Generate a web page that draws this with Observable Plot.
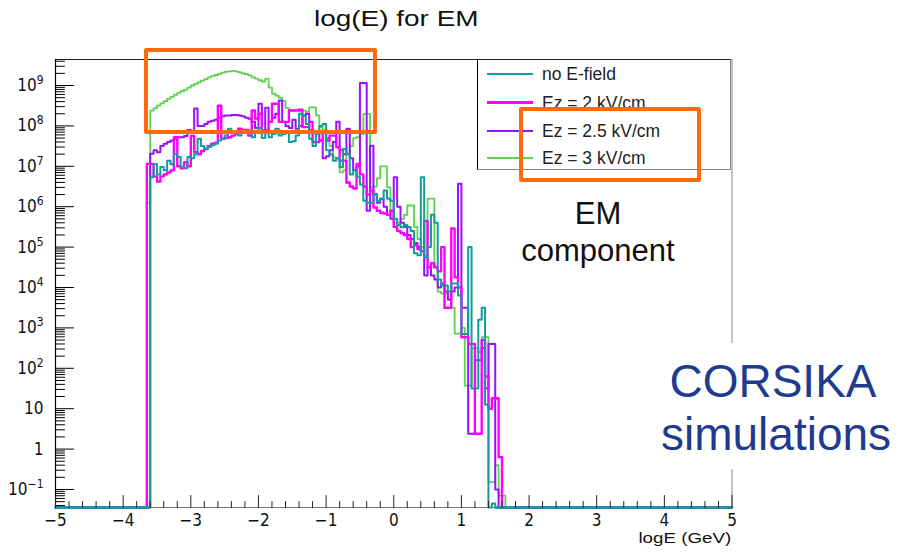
<!DOCTYPE html>
<html><head><meta charset="utf-8">
<script src="https://cdn.jsdelivr.net/npm/d3@7"></script>
<script src="https://cdn.jsdelivr.net/npm/@observablehq/plot@0.6"></script>
<style>
body{margin:0;background:#fff;}
#wrap{position:relative;width:904px;height:552px;overflow:hidden;font-family:"Liberation Sans",Arial,sans-serif;background:#fff;}
#wrap svg{position:absolute;left:0;top:0;}
.ov{position:absolute;white-space:nowrap;}
</style></head><body><div id="wrap"></div>
<script>
// ---- data: log10(entries) per bin, bins of width 0.05 starting at logE = -3.65; null = empty bin
const binStart = -3.65;
const binWidth = 0.05;
const seriesNames = ["no E-field", "Ez = 2 kV/cm", "Ez = 2.5 kV/cm", "Ez = 3 kV/cm"];
const seriesColors = ["#129c9c", "#ff00ff", "#9a10ff", "#5cd24e"];

const noField = [
  null,6.73,7.06,6.8,6.98,6.9,7.14,7.05,7.31,7.23,6.98,
  6.95,7.23,7.2,7.3,7.68,7.5,7.43,7.48,7.52,7.56,
  7.64,7.68,7.76,7.93,7.85,7.87,7.76,7.87,7.84,7.84,
  7.72,7.84,7.95,7.7,7.84,7.72,7.8,7.93,7.76,7.8,
  7.84,7.6,7.62,7.76,8.3,8.25,8.05,7.68,7.5,7.8,
  8.0,8.05,7.4,7.3,7.14,7.2,6.98,7.43,7.3,6.8,
  6.9,6.75,6.55,6.15,6.1,6.1,6.32,6.15,6.2,6.4,
  6.2,6.15,5.7,5.55,5.49,5.55,5.5,5.4,4.85,4.8,
  6.73,4.75,5.0,5.8,5.6,4.2,4.05,4.05,3.9,4.1,
  4.1,3.8,2.85,2.85,5.0,1.5,1.5,3.2,3.5,1.1,
  null,-1.35,null,null,null,null
];
const ez2 = [
  7.06,7.06,6.75,6.62,6.75,6.8,6.85,6.9,7.72,7.0,6.95,
  7.1,7.0,7.75,7.35,7.3,7.38,7.43,7.5,7.56,7.58,
  8.5,7.68,7.7,7.72,7.76,7.8,7.93,7.9,7.9,7.76,
  8.38,8.18,8.3,7.89,7.89,8.1,8.55,8.55,8.1,8.1,
  8.1,8.38,8.38,8.38,8.4,7.97,7.97,8.1,7.6,7.6,
  7.64,7.84,7.64,7.76,7.76,7.47,7.14,7.14,6.6,6.5,
  6.45,7.06,6.8,6.5,6.3,6.4,5.98,5.9,5.85,5.83,
  5.8,5.9,5.5,5.4,5.35,5.3,5.2,5.0,5.05,4.95,
  4.9,5.65,4.5,4.6,4.5,4.4,5.0,3.5,3.5,5.46,
  4.25,4.0,2.77,2.77,2.6,2.6,0.38,0.38,2.7,1.8,
  1.0,1.26,1.26,-0.2,null,null
];
const ez25 = [
  null,7.31,7.4,7.35,7.5,7.56,7.6,7.64,7.68,7.72,7.72,
  7.75,7.9,7.85,8.43,8.0,8.0,8.05,8.1,8.13,8.15,
  8.2,8.24,8.26,8.26,8.27,8.27,8.26,8.24,8.2,8.18,
  8.1,7.95,8.55,7.89,8.45,8.1,8.2,8.3,8.63,8.1,
  8.0,7.95,8.15,7.93,8.0,8.25,8.3,7.9,7.85,7.86,
  7.64,7.2,7.25,7.4,7.6,8.1,7.4,7.3,7.93,7.2,
  6.9,7.0,9.06,9.06,5.9,7.51,6.3,6.1,6.2,6.0,
  5.8,5.7,6.73,6.0,5.6,5.5,5.3,5.2,5.1,5.0,
  4.9,4.3,4.5,4.3,4.2,4.0,4.1,3.9,3.7,3.9,
  4.0,6.57,3.5,3.5,0.38,0.38,2.2,2.2,2.5,1.5,
  2.6,2.6,-1.0,null,null,null
];
const ez3 = [
  6.1,8.38,8.44,8.5,8.56,8.61,8.67,8.72,8.77,8.82,8.86,
  8.9,8.95,9.0,9.04,9.08,9.12,9.16,9.2,9.23,9.26,
  9.29,9.32,9.34,9.35,9.36,9.35,9.33,9.3,9.28,9.25,
  9.2,9.17,9.13,9.1,9.17,8.95,8.8,8.75,8.7,8.62,
  8.44,8.4,8.38,8.4,8.36,8.38,8.35,8.46,8.46,8.26,
  7.97,7.9,7.7,7.5,7.22,7.2,6.85,6.9,7.3,7.5,
  7.7,7.72,7.8,8.3,8.3,6.48,6.5,6.7,7.0,7.0,
  6.48,5.9,5.5,5.6,5.7,5.8,6.03,6.03,5.5,5.2,
  5.0,4.8,6.2,6.2,4.5,3.9,3.85,3.85,3.7,3.5,
  2.86,2.86,3.0,1.57,1.57,2.5,2.5,2.4,2.77,2.77,
  -0.82,-0.82,-0.4,-1.15,-1.15,null
];

const xTickLabels = [-5,-4,-3,-2,-1,0,1,2,3,4,5];
const yDecades = [-1,0,1,2,3,4,5,6,7,8,9];

// ---- scales
const xDomain = [-5, 5];
const yDomain = [10 ** -1.446, 10 ** 9.644];
const floor = yDomain[0];

function histPoints(vals, name) {
  const pts = [{x: xDomain[0], y: floor, s: name}];
  vals.forEach((v, i) => pts.push({x: binStart + i * binWidth, y: v == null ? floor : 10 ** v, s: name}));
  pts.push({x: binStart + vals.length * binWidth, y: floor, s: name});
  pts.push({x: xDomain[1], y: floor, s: name});
  return pts;
}
const allSeries = [noField, ez2, ez25, ez3];
const data = allSeries.map((v, k) => histPoints(v, seriesNames[k]));

// empty-bin baseline of the last-drawn series (drawn on top of the axis line)
const firstFilled = noField.findIndex(v => v != null);
let lastFilled = noField.length - 1; while (noField[lastFilled] == null) lastFilled--;
const baseSegs = [
  {x1: xDomain[0], x2: binStart + firstFilled * binWidth},
  {x1: binStart + (lastFilled + 1) * binWidth, x2: xDomain[1]}
];

const yMajors = yDecades.map(e => 10 ** e);
const yMinors = [];
yDecades.concat([-2]).forEach(e => { for (let k = 2; k <= 9; k++) { const v = k * 10 ** e; if (v > yDomain[0] && v < yDomain[1]) yMinors.push(v); } });
const xMinors = d3.range(-5, 5.001, 0.2).map(v => Math.round(v * 10) / 10).filter(v => !xTickLabels.includes(v));

const fmtY = d => { const e = Math.round(Math.log10(d)); return e === 0 ? "1" : e === 1 ? "10" : "10^" + e; };
const fmtX = d => d < 0 ? "\u2212" + (-d) : String(d);

// inward tick shape for vectors
const tickShape = {draw(context, l) { context.moveTo(0, 0); context.lineTo(0, -l); }};

const drawOrder = [3, 2, 1, 0];
const widths = [2, 2.4, 2, 1.8];
const labelFont = "Liberation Sans Narrow, DejaVu Sans Condensed, sans-serif";

const plot = Plot.plot({
  width: 904, height: 552,
  marginLeft: 55, marginRight: 172.5, marginTop: 59, marginBottom: 45,
  x: {domain: xDomain},
  y: {type: "log", domain: yDomain},
  style: {background: "transparent"},
  marks: [
    Plot.ruleY([floor], {stroke: "#777", strokeWidth: 1}),
    Plot.ruleY([yDomain[1]], {stroke: "#222", strokeWidth: 1}),
    Plot.ruleX([xDomain[1]], {stroke: "#888", strokeWidth: 1}),
    ...drawOrder.map(k => Plot.line(data[k], {x: "x", y: "y", curve: "step-after", stroke: seriesColors[k], strokeWidth: widths[k]})),
    Plot.ruleY(baseSegs, {y: () => floor, x1: "x1", x2: "x2", stroke: seriesColors[0], strokeWidth: 2.4}),
    Plot.ruleX([xDomain[0]], {stroke: "#000", strokeWidth: 1.2}),
    // inward ticks (ROOT style)
    Plot.vector(yMajors, {x: () => xDomain[0], y: d => d, length: 18, rotate: 90, anchor: "start", shape: tickShape, stroke: "#000", strokeWidth: 1}),
    Plot.vector(yMinors, {x: () => xDomain[0], y: d => d, length: 9, rotate: 90, anchor: "start", shape: tickShape, stroke: "#000", strokeWidth: 1}),
    Plot.vector(xTickLabels, {x: d => d, y: () => floor, length: 12, rotate: 0, anchor: "start", shape: tickShape, stroke: "#222", strokeWidth: 1}),
    Plot.vector(xMinors, {x: d => d, y: () => floor, length: 6, rotate: 0, anchor: "start", shape: tickShape, stroke: "#222", strokeWidth: 1}),
    Plot.axisY(yMajors, {anchor: "left", tickSize: 0, tickPadding: 12, tickFormat: fmtY, label: null, fontSize: 17, fontFamily: labelFont, fill: "#111"}),
    Plot.axisX(xTickLabels, {anchor: "bottom", tickSize: 0, tickPadding: 6, tickFormat: fmtX, label: null, fontSize: 17, fontFamily: labelFont, fill: "#111"})
  ]
});

const wrap = document.getElementById("wrap");
wrap.appendChild(plot);

// superscripts for y labels
const ns = "http://www.w3.org/2000/svg";
plot.querySelectorAll("text").forEach(t => {
  const s = t.textContent;
  if (s.includes("^")) {
    const [b, e] = s.split("^");
    t.textContent = "";
    const t1 = document.createElementNS(ns, "tspan"); t1.textContent = b;
    const t2 = document.createElementNS(ns, "tspan");
    t2.textContent = e.replace("-", "\u2212");
    t2.setAttribute("font-size", "12");
    t2.setAttribute("dy", "-7");
    t.append(t1, t2);
  }
});

function ov(html, css) {
  const d = document.createElement("div");
  d.className = "ov";
  d.style.cssText = css;
  d.innerHTML = html;
  wrap.appendChild(d);
  return d;
}
// title
ov("log(E) for EM", "left:314px;top:6px;font-size:22px;color:#111;transform:scaleX(1.27);transform-origin:left top;");
// axis title
ov("logE (GeV)", "right:173px;top:529px;font-size:15px;color:#111;font-family:'Liberation Sans Narrow','Liberation Sans',sans-serif;transform:scaleX(1.25);transform-origin:right top;");

// legend
const leg = ov("", "left:477px;top:59px;width:254px;height:111px;background:#fff;border-left:1.5px solid #000;border-bottom:1px solid #888;border-top:1px solid #222;border-right:1px solid #888;box-sizing:border-box;");
const legRowsY = [14, 42.5, 71, 98];
const legWidths = [2, 3.5, 2, 2];
seriesNames.forEach((n, k) => {
  const l = document.createElement("div");
  l.style.cssText = `position:absolute;left:9px;top:${legRowsY[k] - legWidths[k] / 2}px;width:46px;height:${legWidths[k]}px;background:${seriesColors[k]};`;
  leg.appendChild(l);
  const t = document.createElement("div");
  t.style.cssText = `position:absolute;left:64px;top:${legRowsY[k] - 11}px;font-size:17.5px;color:#222;white-space:nowrap;line-height:22px;`;
  t.textContent = n;
  leg.appendChild(t);
});

// annotations
ov("EM", "left:518px;width:160px;text-align:center;top:196px;font-size:31px;line-height:36px;color:#111;");
ov("component", "left:498px;width:200px;text-align:center;top:233px;font-size:31px;line-height:36px;color:#111;");
ov("", "left:648px;top:343px;width:256px;height:126px;background:#fff;");
ov("CORSIKA", "left:660px;width:226px;text-align:center;top:354px;font-size:46px;line-height:54px;color:#1f3b8f;");
ov("simulations", "left:650px;width:252px;text-align:center;top:407px;font-size:46px;line-height:54px;color:#1f3b8f;");

// orange highlight boxes
ov("", "left:144px;top:48px;width:233px;height:86px;border:4px solid #ff6a0d;box-sizing:border-box;border-radius:2px;");
ov("", "left:519px;top:107px;width:182px;height:75px;border:4px solid #ff6a0d;box-sizing:border-box;border-radius:2px;");
</script></body></html>
